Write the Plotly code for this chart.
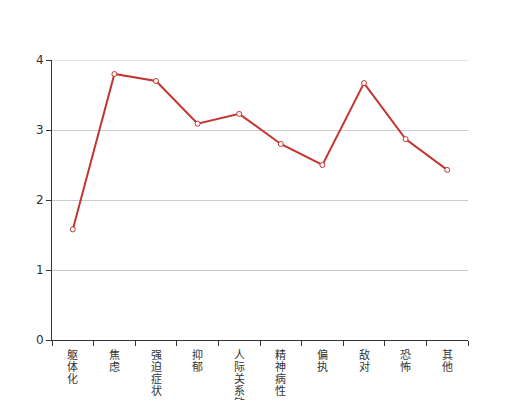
import plotly.graph_objects as go

categories = ["躯体化", "焦虑", "强迫症状", "抑郁", "人际关系敏感", "精神病性", "偏执", "敌对", "恐怖", "其他"]
values = [1.58, 3.80, 3.70, 3.09, 3.23, 2.80, 2.50, 3.67, 2.87, 2.43]
y_ticks = [0, 1, 2, 3, 4]

font_family = "Noto Sans CJK SC, DejaVu Sans, sans-serif"

fig = go.Figure()
fig.add_trace(go.Scatter(
    x=categories, y=values, mode="lines+markers",
    line=dict(color="#c23531", width=2),
    marker=dict(symbol="circle", size=5, color="#ffffff",
                line=dict(color="#c23531", width=1)),
    hoverinfo="x+y", showlegend=False, cliponaxis=False,
))

# vertical (stacked-character) category labels: ~11px glyphs, 12px line step
annotations = []
for c in categories:
    text = "<br>".join("<span style='font-size:11px'>%s</span>" % ch for ch in c)
    annotations.append(dict(
        x=c, y=0, xref="x", yref="y", text=text, showarrow=False,
        xanchor="center", yanchor="top", yshift=-5,
        borderpad=0, align="center",
        font=dict(family=font_family, size=12 / 1.3, color="#333333"),
    ))

# top grid line (plotly skips the grid line lying on the plot edge)
shapes = [dict(type="line", xref="paper", x0=0, x1=1, yref="y", y0=max(y_ticks), y1=max(y_ticks),
               line=dict(color="#cccccc", width=1), layer="below")]

fig.update_layout(
    width=520, height=400,
    margin=dict(l=44, r=60, t=52, b=68),
    paper_bgcolor="#ffffff", plot_bgcolor="#ffffff",
    font=dict(family=font_family, size=12, color="#333333"),
    annotations=annotations, shapes=shapes,
    xaxis=dict(
        type="category", tickmode="array", tickvals=categories, showticklabels=False,
        tickson="boundaries", ticks="outside", ticklen=5, tickcolor="#333333",
        showline=True, linecolor="#333333", linewidth=1, automargin=False,
        showgrid=False, range=[-0.5, len(categories) - 0.5],
    ),
    yaxis=dict(
        range=[0, 4], tickvals=y_ticks, ticks="outside", ticklen=5, tickcolor="#333333",
        showline=True, linecolor="#333333", linewidth=1, automargin=False,
        showgrid=True, gridcolor="#cccccc", gridwidth=1, zeroline=False,
        tickfont=dict(family="DejaVu Sans, sans-serif", size=12, color="#333333"),
    ),
)

fig.write_html("out.html")
